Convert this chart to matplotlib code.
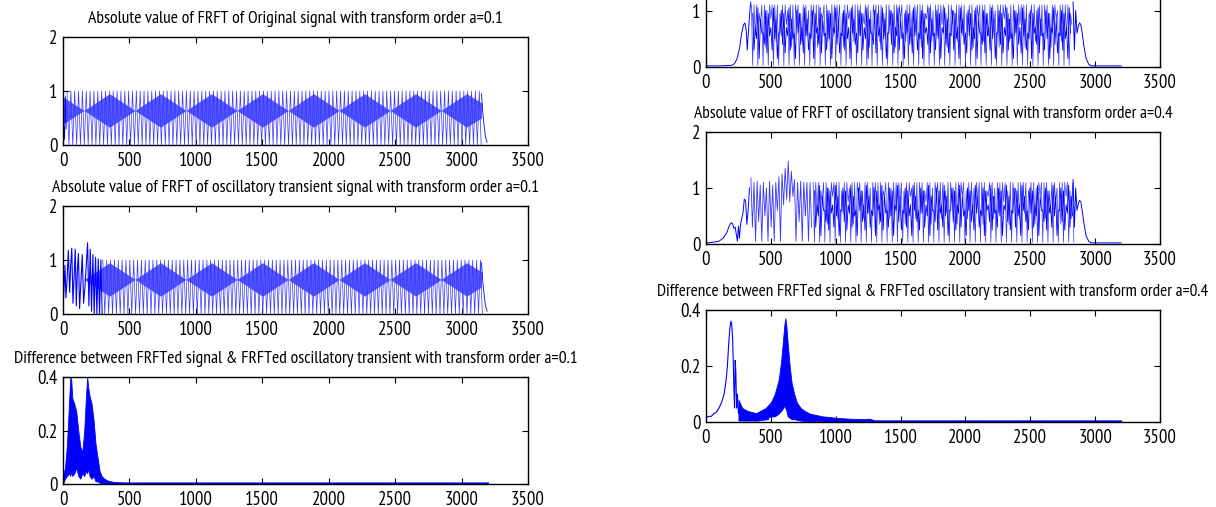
import numpy as np
import matplotlib
matplotlib.use("Agg")
import matplotlib.pyplot as plt
from matplotlib import font_manager

# narrow sans face for the labels, if one is installed
FONT = "Liberation Sans"
for f in font_manager.fontManager.ttflist:
    base = f.fname.lower()
    if ("narrow" in base or "condensed" in base) and "sans" in base \
            and "bold" not in base and "oblique" not in base and "italic" not in base:
        font_manager.fontManager.addfont(f.fname)
        FONT = f.name
        if "narrow" in base:
            break
plt.rcParams["font.family"] = [FONT, "DejaVu Sans"]

X_TICKS = [0, 500, 1000, 1500, 2000, 2500, 3000, 3500]
SIG_TICKS = [0, 1, 2]
DIFF_TICKS = [0, 0.2, 0.4]
DIFF_LABELS = ["0", "0.2", "0.4"]

TITLES = [
    "Absolute value of FRFT of Original signal with transform order a=0.1",
    "Absolute value of FRFT of oscillatory transient signal with transform order a=0.1",
    "Difference between FRFTed signal & FRFTed oscillatory transient with transform order a=0.1",
    "Absolute value of FRFT of oscillatory transient signal with transform order a=0.4",
    "Difference between FRFTed signal & FRFTed oscillatory transient with transform order a=0.4",
]

# ---- a = 0.1, original signal ----
orig01_head_x = [0, 6, 12, 18, 24]
orig01_head_y = [0.05, 0.35, 0.1, 0.9, 0.3]
orig01_band = (30, 3150, 29)        # first peak, end, spacing (samples)
orig01_top = 1.0
orig01_bottom = 0.0
orig01_tail_x = [3150, 3160, 3170, 3180, 3192]
orig01_tail_y = [0.95, 0.6, 0.35, 0.15, 0.05]

# beat pattern inside the band (a = 0.1)
lens01_x = [0, 158, 350, 542, 734, 926, 1118, 1310, 1502, 1694, 1886, 2078,
            2270, 2462, 2654, 2846, 3038, 3150]
lens01_hi = [0.89, 0.64, 0.95, 0.64, 0.95, 0.64, 0.95, 0.64, 0.95, 0.64, 0.95,
             0.64, 0.95, 0.64, 0.95, 0.64, 0.95, 0.78]
lens01_lo = [0.39, 0.64, 0.33, 0.64, 0.33, 0.64, 0.33, 0.64, 0.33, 0.64, 0.33,
             0.64, 0.33, 0.64, 0.33, 0.64, 0.33, 0.50]

# ---- a = 0.1, oscillatory transient ----
trans01_x = [0, 8, 15, 22, 30, 40, 50, 58, 66, 75, 84, 92, 100, 108, 116, 125,
             135, 145, 155, 165, 175, 185, 195, 205, 215, 225, 235, 245, 255,
             265, 275, 285, 295]
trans01_y = [0.1, 0.5, 0.9, 0.3, 0.6, 1.18, 0.4, 0.9, 1.22, 0.2, 0.7, 1.2,
             0.15, 0.8, 1.12, 0.1, 0.6, 1.1, 0.2, 0.5, 0.9, 1.32, 0.15, 1.2,
             0.05, 1.1, 0.0, 1.05, 0.0, 1.02, 0.0, 1.0, 0.0]
trans01_band = (300, 3150, 29)

# ---- a = 0.1, difference ----
diff01_x = [0, 15, 30, 45, 55, 62, 70, 85, 100, 115, 130, 145, 160, 172, 182,
            190, 200, 215, 230, 245, 260, 275, 290, 310, 340, 380, 450, 3200]
diff01_hi = [0.03, 0.06, 0.15, 0.3, 0.4, 0.39, 0.32, 0.3, 0.27, 0.2, 0.14,
             0.12, 0.2, 0.32, 0.4, 0.36, 0.33, 0.3, 0.24, 0.15, 0.1, 0.05,
             0.03, 0.02, 0.012, 0.008, 0.006, 0.006]
diff01_lo = [0.0, 0.02, 0.03, 0.04, 0.03, 0.05, 0.03, 0.04, 0.06, 0.03, 0.02,
             0.04, 0.03, 0.05, 0.04, 0.06, 0.03, 0.02, 0.03, 0.01, 0.01, 0.005,
             0.003, 0.003, 0.002, 0.002, 0.002, 0.002]

# ---- a = 0.4, original signal ----
orig04_head_x = [0, 100, 200, 220, 240, 260, 275, 290, 300, 310, 318, 325, 335, 345]
orig04_head_y = [0.02, 0.02, 0.03, 0.06, 0.15, 0.35, 0.6, 0.75, 0.78, 0.65,
                 0.3, 0.55, 0.9, 1.15]
orig04_band = (350, 2830, 20)
orig04_tops = [1.1, 1.1, 1.1, 0.95, 1.1, 1.1, 1.0, 1.1]
orig04_bottoms = [0.03, 0.55, 0.03, 0.75, 0.03, 0.35, 0.03, 0.85, 0.03, 0.45]
orig04_inner = (360, 2820, 20)
orig04_inner_tops = [0.95, 0.7, 1.05, 0.85, 0.6, 1.0]
orig04_inner_bottoms = [0.3, 0.5, 0.15, 0.6, 0.4, 0.25, 0.55]
orig04_tail_x = [2830, 2840, 2850, 2860, 2870, 2880, 2890, 2900, 2915, 2930,
                 2950, 2970, 3000, 3200]
orig04_tail_y = [1.15, 0.3, 1.0, 0.6, 0.72, 0.78, 0.75, 0.6, 0.35, 0.15,
                 0.05, 0.02, 0.02, 0.02]

# ---- a = 0.4, oscillatory transient ----
trans04_head_x = [0, 50, 100, 130, 160, 180, 195, 205, 215, 225, 235, 242,
                  250, 258, 266, 275, 285, 295, 305, 315, 325, 335]
trans04_head_y = [0.02, 0.03, 0.05, 0.1, 0.2, 0.33, 0.38, 0.36, 0.28, 0.3,
                  0.15, 0.05, 0.32, 0.1, 0.35, 0.45, 0.55, 0.8, 0.78, 0.35,
                  0.6, 1.0]
trans04_early = (346, 826, 24)
trans04_early_tops = [1.18, 1.1, 1.12, 1.05, 1.1, 1.0, 1.12, 1.05, 1.1, 1.2,
                      1.25, 1.35, 1.48, 1.3, 1.15, 1.1, 1.12, 1.1, 1.1, 1.1]
trans04_early_bottoms = [0.3, 0.05, 0.4, 0.05, 0.5, 0.05, 0.3, 0.05, 0.6, 0.05,
                         0.7, 0.8, 0.75, 0.85, 0.05, 0.4, 0.05, 0.5, 0.05, 0.3]
trans04_band = (826, 2830, 20)
trans04_inner = (836, 2820, 20)

# ---- a = 0.4, difference ----
diff04_peak_x = [0, 20, 40, 60, 80, 100, 120, 140, 155, 165, 175, 185, 192,
                 198, 205, 210, 215, 220, 225, 230, 236, 242, 250, 260, 270]
diff04_peak_y = [0.015, 0.02, 0.02, 0.03, 0.035, 0.05, 0.07, 0.1, 0.15, 0.2,
                 0.28, 0.34, 0.36, 0.35, 0.3, 0.22, 0.12, 0.05, 0.22, 0.18,
                 0.05, 0.1, 0.03, 0.06, 0.02]
diff04_noise_x = [250, 280, 320, 360, 400, 440, 480]
diff04_noise_hi = [0.08, 0.05, 0.04, 0.035, 0.03, 0.04, 0.05]
diff04_noise_lo = [0.005, 0.005, 0.005, 0.005, 0.005, 0.008, 0.01]
diff04_x = [380, 420, 460, 500, 530, 560, 580, 595, 605, 612, 620, 630, 645,
            660, 680, 700, 730, 760, 800, 850, 900, 950, 1000, 1100, 1200,
            1260, 1300, 3200]
diff04_hi = [0.03, 0.04, 0.05, 0.07, 0.1, 0.15, 0.22, 0.3, 0.35, 0.37, 0.34,
             0.28, 0.2, 0.14, 0.1, 0.07, 0.05, 0.04, 0.03, 0.025, 0.02, 0.018,
             0.015, 0.012, 0.01, 0.012, 0.006, 0.006]
diff04_lo = [0.005, 0.01, 0.015, 0.02, 0.02, 0.03, 0.04, 0.05, 0.06, 0.05,
             0.04, 0.02, 0.015, 0.01, 0.01, 0.008, 0.005, 0.004, 0.003, 0.003,
             0.002, 0.002, 0.002, 0.002, 0.002, 0.002, 0.002, 0.002]

BLUE = "#0000ff"
STROKE = "#3535ff"
LENS = "#5858ff"
W, H = 1216, 507


def zigzag(band, tops, bottoms):
    """Alternate peak/trough vertices across a band of oscillation."""
    start, stop, step = band
    peaks = np.arange(start, stop, step)
    hi = np.resize(np.atleast_1d(tops), len(peaks))
    lo = np.resize(np.atleast_1d(bottoms), len(peaks))
    x = np.column_stack([peaks, peaks + step / 2]).ravel()
    y = np.column_stack([hi, lo]).ravel()
    return x, y


def box(left, top, right, bottom):
    return [left / W, 1 - bottom / H, (right - left) / W, (bottom - top) / H]


def style(ax, yticks, ylim, ylabels=None):
    ax.set_xlim(0, 3500)
    ax.set_ylim(*ylim)
    ax.set_xticks(X_TICKS)
    ax.set_yticks(yticks)
    if ylabels:
        ax.set_yticklabels(ylabels)
    ax.tick_params(direction="in", top=True, right=True, length=4, width=0.8,
                   labelsize=13.5)
    ax.tick_params(axis="x", pad=5)
    ax.tick_params(axis="y", pad=4)
    for s in ax.spines.values():
        s.set_linewidth(1.0)


def draw_band(ax, band, tops, bottoms, lw=0.5, color=STROKE):
    x, y = zigzag(band, tops, bottoms)
    ax.plot(x, y, color=color, lw=lw)


fig = plt.figure(figsize=(W / 100, H / 100), dpi=100)

# left column, a = 0.1
ax1 = fig.add_axes(box(63, 37, 528, 145))
ax1.fill_between(lens01_x, lens01_lo, lens01_hi, color=LENS, lw=0)
draw_band(ax1, orig01_band, orig01_top, orig01_bottom)
ax1.plot(orig01_head_x, orig01_head_y, color=BLUE, lw=0.6)
ax1.plot(orig01_tail_x, orig01_tail_y, color=BLUE, lw=0.6)
style(ax1, SIG_TICKS, (0, 2))
ax1.set_title(TITLES[0], fontsize=12.7, pad=10)

ax2 = fig.add_axes(box(63, 206, 528, 314))
ax2.fill_between(lens01_x[1:], lens01_lo[1:], lens01_hi[1:], color=LENS, lw=0)
ax2.plot(trans01_x, trans01_y, color=BLUE, lw=0.8)
draw_band(ax2, trans01_band, orig01_top, orig01_bottom)
ax2.plot(orig01_tail_x, orig01_tail_y, color=BLUE, lw=0.6)
style(ax2, SIG_TICKS, (0, 2))
ax2.set_title(TITLES[1], fontsize=12.7, pad=10)

ax3 = fig.add_axes(box(63, 377, 528, 484))
ax3.fill_between(diff01_x, diff01_lo, diff01_hi, color=BLUE, lw=0.6)
style(ax3, DIFF_TICKS, (0, 0.4), DIFF_LABELS)
ax3.set_title(TITLES[2], fontsize=12.7, pad=10)

# right column, a = 0.4 (top panel runs off the top edge)
ax4 = fig.add_axes(box(706, -46, 1160, 67))
ax4.plot(orig04_head_x, orig04_head_y, color=BLUE, lw=0.7)
draw_band(ax4, orig04_band, orig04_tops, orig04_bottoms)
draw_band(ax4, orig04_inner, orig04_inner_tops, orig04_inner_bottoms, lw=0.6, color=BLUE)
ax4.plot(orig04_tail_x, orig04_tail_y, color=BLUE, lw=0.7)
style(ax4, SIG_TICKS, (0, 2), ["0", "1", ""])

ax5 = fig.add_axes(box(706, 132, 1160, 244))
ax5.plot(trans04_head_x, trans04_head_y, color=BLUE, lw=0.7)
draw_band(ax5, trans04_early, trans04_early_tops, trans04_early_bottoms, lw=0.6)
draw_band(ax5, trans04_band, orig04_tops, orig04_bottoms)
draw_band(ax5, trans04_inner, orig04_inner_tops, orig04_inner_bottoms, lw=0.6, color=BLUE)
ax5.plot(orig04_tail_x, orig04_tail_y, color=BLUE, lw=0.7)
style(ax5, SIG_TICKS, (0, 2))
ax5.set_title(TITLES[3], fontsize=12.5, pad=10)

ax6 = fig.add_axes(box(706, 310, 1160, 422))
ax6.plot(diff04_peak_x, diff04_peak_y, color=BLUE, lw=0.8)
ax6.fill_between(diff04_noise_x, diff04_noise_lo, diff04_noise_hi, color=BLUE, lw=0.5)
ax6.fill_between(diff04_x, diff04_lo, diff04_hi, color=BLUE, lw=0.6)
style(ax6, DIFF_TICKS, (0, 0.4), DIFF_LABELS)
ax6.set_title(TITLES[4], fontsize=12.4, pad=10)

fig.savefig("out.png", dpi=100)
